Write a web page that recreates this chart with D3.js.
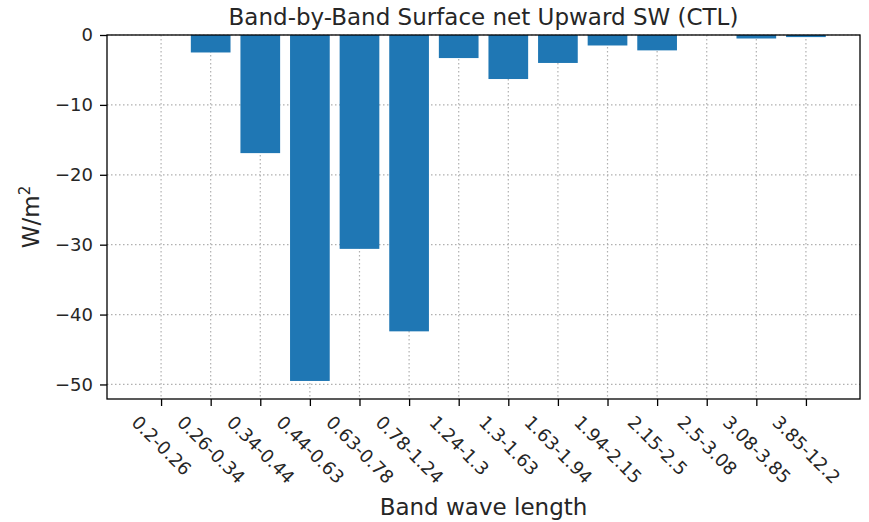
<!DOCTYPE html>
<html>
<head>
<meta charset="utf-8">
<script src="https://d3js.org/d3.v7.min.js"></script>
<style>
  body { margin: 0; background: #fff; }
  text { font-family: "DejaVu Sans", sans-serif; fill: #262626; }
</style>
</head>
<body>
<div id="chart"></div>
<script>
// band labels and net upward SW per band (W/m2)
var bands = ["0.2-0.26", "0.26-0.34", "0.34-0.44", "0.44-0.63", "0.63-0.78", "0.78-1.24",
             "1.24-1.3", "1.3-1.63", "1.63-1.94", "1.94-2.15", "2.15-2.5", "2.5-3.08",
             "3.08-3.85", "3.85-12.2"];
var values = [0, -2.5, -16.9, -49.5, -30.6, -42.4, -3.3, -6.3, -4.0, -1.5, -2.2, 0, -0.5, -0.3];
var yTicks = [0, -10, -20, -30, -40, -50];

var W = 869, H = 522;
var m = {left: 107, right: 860, top: 35, bottom: 399};

var svg = d3.select("#chart").append("svg")
  .attr("width", W).attr("height", H);

var x = d3.scaleLinear().domain([-1.09, 14.09]).range([m.left, m.right]);
var y = d3.scaleLinear().domain([-52.08, 0]).range([m.bottom, m.top]);
var barW = x(0.8) - x(0);

// grid (dotted, under the bars)
svg.append("g").selectAll("line")
  .data(bands).enter().append("line")
    .attr("x1", function(d, i) { return x(i); })
    .attr("x2", function(d, i) { return x(i); })
    .attr("y1", m.top).attr("y2", m.bottom)
    .attr("stroke", "#b0b0b0").attr("stroke-width", 1.2)
    .attr("stroke-dasharray", "1.5,2.5");
svg.append("g").selectAll("line")
  .data(yTicks).enter().append("line")
    .attr("x1", m.left).attr("x2", m.right)
    .attr("y1", function(d) { return y(d); })
    .attr("y2", function(d) { return y(d); })
    .attr("stroke", "#b0b0b0").attr("stroke-width", 1.2)
    .attr("stroke-dasharray", "1.5,2.5");

// bars
svg.append("g").selectAll("rect")
  .data(values).enter().append("rect")
    .attr("x", function(d, i) { return x(i) - barW / 2; })
    .attr("width", barW)
    .attr("y", function(d) { return y(Math.max(0, d)); })
    .attr("height", function(d) { return Math.abs(y(d) - y(0)); })
    .attr("fill", "#1f77b4");

// frame
svg.append("rect")
  .attr("x", m.left).attr("y", m.top)
  .attr("width", m.right - m.left).attr("height", m.bottom - m.top)
  .attr("fill", "none").attr("stroke", "#000").attr("stroke-width", 1.3);

// y axis
var yAxis = svg.append("g")
  .attr("transform", "translate(" + m.left + ",0)")
  .call(d3.axisLeft(y).tickValues(yTicks).tickSize(7).tickPadding(7)
    .tickFormat(function(d) { return d < 0 ? "\u2212" + Math.abs(d) : d; }));
yAxis.select(".domain").remove();
yAxis.selectAll("line").attr("stroke", "#000").attr("stroke-width", 1.3);
yAxis.selectAll("text").attr("font-size", 18).attr("font-family", "DejaVu Sans").attr("fill", "#262626");

// x axis, labels rotated
var xAxis = svg.append("g")
  .attr("transform", "translate(0," + m.bottom + ")")
  .call(d3.axisBottom(x).tickValues(d3.range(bands.length)).tickSize(7)
    .tickFormat(function(d) { return bands[d]; }));
xAxis.select(".domain").remove();
xAxis.selectAll("line").attr("stroke", "#000").attr("stroke-width", 1.3);
xAxis.selectAll("text")
  .attr("font-size", 18).attr("font-family", "DejaVu Sans").attr("fill", "#262626")
  .attr("text-anchor", "middle").attr("dy", "0.35em").attr("y", 0)
  .each(function(d) {
    var bb = this.getBBox();
    var h = (bb.width + 17) / Math.SQRT2;
    var cy = 14 + h / 2;
    d3.select(this).attr("transform", "translate(0," + cy + ") rotate(45)");
  });

// titles
svg.append("text")
  .attr("x", (m.left + m.right) / 2).attr("y", 25)
  .attr("text-anchor", "middle").attr("font-size", 23)
  .text("Band-by-Band Surface net Upward SW (CTL)");
svg.append("text")
  .attr("x", (m.left + m.right) / 2).attr("y", 515)
  .attr("text-anchor", "middle").attr("font-size", 23)
  .text("Band wave length");
var yl = svg.append("text")
  .attr("transform", "translate(39," + ((m.top + m.bottom) / 2) + ") rotate(-90)")
  .attr("text-anchor", "middle").attr("font-size", 23);
yl.append("tspan").text("W/m");
yl.append("tspan").attr("font-size", 15).attr("dy", -9).text("2");
</script>
</body>
</html>
